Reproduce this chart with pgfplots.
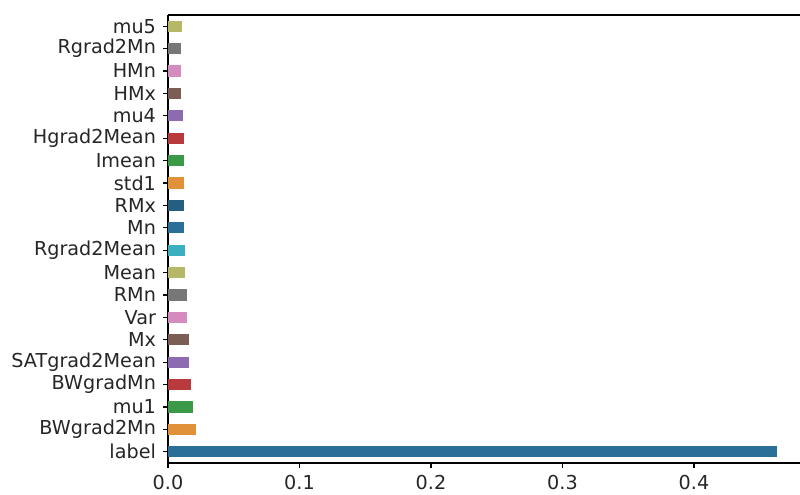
\documentclass[border=0pt]{standalone}
\usepackage{pgfplots}
\pgfplotsset{compat=1.18}
\usepackage{fontspec}
\setmainfont{DejaVu Sans}
\usetikzlibrary{calc}
\definecolor{c0}{HTML}{2A6F97}
\definecolor{c1}{HTML}{E0913A}
\definecolor{c2}{HTML}{3A9A48}
\definecolor{c3}{HTML}{B83A3C}
\definecolor{c4}{HTML}{8D6BB0}
\definecolor{c5}{HTML}{7A5E55}
\definecolor{c6}{HTML}{D48BBE}
\definecolor{c7}{HTML}{777777}
\definecolor{c8}{HTML}{B5B866}
\definecolor{c9}{HTML}{3AAFBF}
\begin{document}
\begin{tikzpicture}
\begin{axis}[
  name=ax,
  scale only axis,
  width=316pt, height=224pt,
  xmin=0, xmax=0.4806,
  ymin=-0.5, ymax=19.5,
  axis x line*=box,
  axis y line*=left,
  axis line style={-, line width=0.7pt, black},
  xtick={0,0.1,0.2,0.3,0.4},
  xtick pos=bottom,
  xtick align=outside, ytick align=outside,
  ytick pos=left,
  major tick length=2.5pt,
  tick style={line width=0.6pt, black},
  xticklabel style={/pgf/number format/fixed, /pgf/number format/fixed zerofill, /pgf/number format/precision=1, /pgf/number format/assume math mode=true},
  ytick={0,...,19},
  yticklabels={label,BWgrad2Mn,mu1,BWgradMn,SATgrad2Mean,Mx,Var,RMn,Mean,Rgrad2Mean,Mn,RMx,std1,Imean,Hgrad2Mean,mu4,HMx,HMn,Rgrad2Mn,mu5},
  tick label style={font=\fontsize{9.6pt}{11pt}\selectfont, text=black!85},
  xbar, bar width=5.6pt, bar shift=0pt,
  every axis plot/.append style={draw=none},
]
\addplot[fill=c0] coordinates {(0.463,0)};
\addplot[fill=c1] coordinates {(0.0210,1)};
\addplot[fill=c2] coordinates {(0.0188,2)};
\addplot[fill=c3] coordinates {(0.0172,3)};
\addplot[fill=c4] coordinates {(0.0157,4)};
\addplot[fill=c5] coordinates {(0.0157,5)};
\addplot[fill=c6] coordinates {(0.0143,6)};
\addplot[fill=c7] coordinates {(0.0145,7)};
\addplot[fill=c8] coordinates {(0.0130,8)};
\addplot[fill=c9] coordinates {(0.0130,9)};
\addplot[fill=c0] coordinates {(0.0122,10)};
\addplot[fill=c0!85!black] coordinates {(0.0120,11)};
\addplot[fill=c1] coordinates {(0.0120,12)};
\addplot[fill=c2] coordinates {(0.0120,13)};
\addplot[fill=c3] coordinates {(0.0120,14)};
\addplot[fill=c4] coordinates {(0.0112,15)};
\addplot[fill=c5] coordinates {(0.0099,16)};
\addplot[fill=c6] coordinates {(0.0098,17)};
\addplot[fill=c7] coordinates {(0.0098,18)};
\addplot[fill=c8] coordinates {(0.0104,19)};
\end{axis}
\pgfresetboundingbox
\path[use as bounding box] ($(ax.south west)+(-84pt,-16pt)$) rectangle ($(ax.north east)+(0pt,7.5pt)$);
\end{tikzpicture}
\end{document}
